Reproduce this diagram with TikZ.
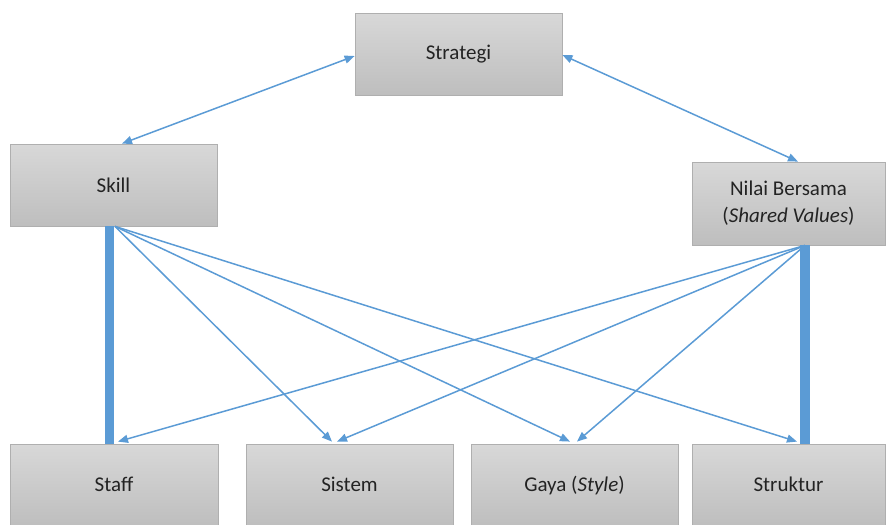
\documentclass[tikz,border=0pt]{standalone}
\usepackage{fontspec}
\setmainfont{Carlito}
\usetikzlibrary{arrows.meta,calc,shadows}
\definecolor{conn}{RGB}{91,155,213}
\definecolor{boxtop}{RGB}{216,216,216}
\definecolor{boxbot}{RGB}{190,190,190}
\definecolor{boxline}{RGB}{175,175,175}
\definecolor{txt}{RGB}{35,35,35}
\tikzset{
  box/.style={draw=boxline, line width=0.8pt, top color=boxtop, bottom color=boxbot,
    minimum width=207pt, minimum height=82pt, inner sep=0pt, align=center,
    text=txt, font=\fontsize{21}{27}\selectfont,
    drop shadow={shadow xshift=1pt, shadow yshift=-1pt, opacity=0.25, fill=black!40}},
  thin/.style={draw=conn, line width=1.5pt, -{Triangle[length=10pt,width=8pt]}},
  both/.style={draw=conn, line width=1.5pt, {Triangle[length=10pt,width=8pt]}-{Triangle[length=10pt,width=8pt]}},
  thick/.style={draw=conn, line width=9.5pt, line cap=butt}
}
\begin{document}
\begin{tikzpicture}[x=1pt,y=-1pt]
\useasboundingbox (0,0) rectangle (887,525);
\node[box] (strategi) at (458.5,54) {Strategi};
\node[box] (skill) at (113.5,185) {Skill};
\node[box, minimum width=193pt, minimum height=83pt] (nilai) at (788.5,203.5) {Nilai Bersama\\(\textit{Shared Values})};
\node[box, minimum width=208pt, text depth=2pt] (staff) at (114,485) {Staff};
\node[box, text depth=2pt] (sistem) at (349.5,485) {Sistem};
\node[box, text depth=2pt] (gaya) at (574.5,485) {Gaya (\textit{Style})};
\node[box, minimum width=193pt, text depth=2pt] (struktur) at (788.5,485) {Struktur};
% thick bars
\draw[thick] ([xshift=-4pt]skill.south) -- ([xshift=-4.5pt]staff.north);
\draw[thick] ([xshift=16.5pt]nilai.south) -- ([xshift=16.5pt]struktur.north);
% double arrows
\draw[both] ([yshift=-2pt]strategi.west) -- ([xshift=8.5pt]skill.north);
\draw[both] ([yshift=-1pt]strategi.east) -- ([xshift=9.5pt]nilai.north);
% thin arrows from skill
\draw[thin] ([xshift=1.5pt]skill.south) -- ([xshift=-17.5pt,yshift=2pt]sistem.north);
\draw[thin] ([xshift=1.5pt]skill.south) -- ([xshift=-4.5pt,yshift=2pt]gaya.north);
\draw[thin] ([xshift=1.5pt]skill.south) -- ([xshift=8.5pt,yshift=2pt]struktur.north);
% thin arrows from nilai
\draw[thin] ([xshift=16.5pt]nilai.south) -- ([xshift=4pt,yshift=2pt]staff.north);
\draw[thin] ([xshift=16.5pt]nilai.south) -- ([xshift=-12.5pt,yshift=2pt]sistem.north);
\draw[thin] ([xshift=16.5pt]nilai.south) -- ([xshift=2.5pt,yshift=2pt]gaya.north);
\end{tikzpicture}
\end{document}
